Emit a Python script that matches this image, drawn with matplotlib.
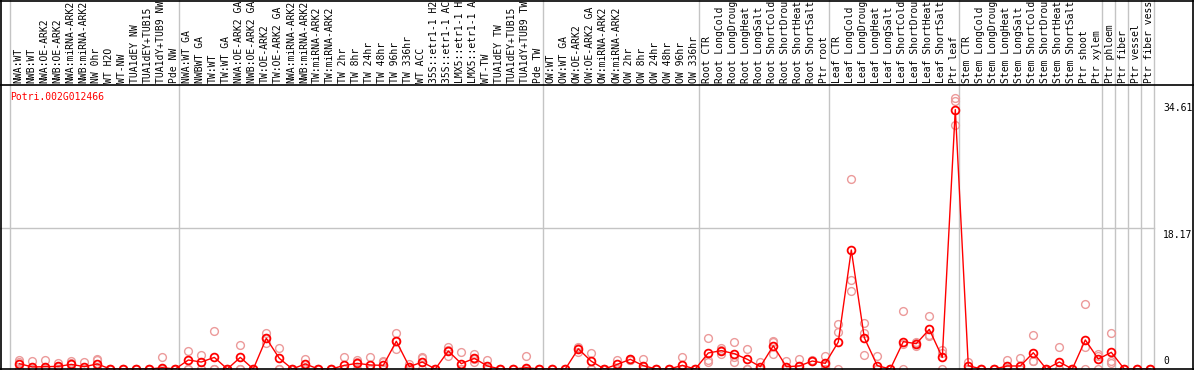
import numpy as np
import matplotlib
matplotlib.use("Agg")
import matplotlib.pyplot as plt
from matplotlib.lines import Line2D
import matplotlib.transforms as mtransforms

gene = "Potri.002G012466"

# category labels as they are visible in the chart (cut to 14 characters)
labels = [
    "NWA:WT", "NWB:WT", "NWA:OE-ARK2", "NWB:OE-ARK2", "NWA:miRNA-ARK2", "NWB:miRNA-ARK2",
    "NW 0hr", "WT H2O", "WT-NW", "TUA1dEY NW", "TUA1dEY+TUB15", "TUA1dY+TUB9 NW", "Pde NW",
    "NWA:WT GA", "NWBWT GA", "TW:WT", "TW:WT GA", "NWA:OE-ARK2 GA", "NWB:OE-ARK2 GA",
    "TW:OE-ARK2", "TW:OE-ARK2 GA", "NWA:miRNA-ARK2", "NWB:miRNA-ARK2", "TW:miRNA-ARK2",
    "TW:miRNA-ARK2", "TW 2hr", "TW 8hr", "TW 24hr", "TW 48hr", "TW 96hr", "TW 336hr",
    "WT ACC", "35S::etr1-1 H2", "35S::etr1-1 AC", "LMX5::etr1-1 H", "LMX5::etr1-1 A",
    "WT-TW", "TUA1dEY TW", "TUA1dEY+TUB15", "TUA1dY+TUB9 TW", "Pde TW",
    "OW:WT", "OW:WT GA", "OW:OE-ARK2", "OW:OE-ARK2 GA", "OW:miRNA-ARK2", "OW:miRNA-ARK2",
    "OW 2hr", "OW 8hr", "OW 24hr", "OW 48hr", "OW 96hr", "OW 336hr",
    "Root CTR", "Root LongCold", "Root LongDroug", "Root LongHeat", "Root LongSalt",
    "Root ShortCold", "Root ShortDrou", "Root ShortHeat", "Root ShortSalt", "Ptr root",
    "Leaf CTR", "Leaf LongCold", "Leaf LongDroug", "Leaf LongHeat", "Leaf LongSalt",
    "Leaf ShortCold", "Leaf ShortDrou", "Leaf ShortHeat", "Leaf ShortSalt", "Ptr leaf",
    "Stem CTR", "Stem LongCold", "Stem LongDroug", "Stem LongHeat", "Stem LongSalt",
    "Stem ShortCold", "Stem ShortDrou", "Stem ShortHeat", "Stem ShortSalt", "Ptr shoot",
    "Ptr xylem", "Ptr phloem", "Ptr fiber", "Ptr vessel", "Ptr fiber vess",
]

# group start indices (separators)
group_starts = [0, 13, 41, 53, 63, 73, 84, 85, 86, 87, 88]

means = [
    0.69, 0.26, 0.30, 0.34, 0.60, 0.30, 0.65, 0, 0, 0, 0, 0.17, 0,
    1.16, 0.9, 1.5, 0, 1.5, 0, 3.96, 1.38, 0, 0.65, 0, 0, 0.47, 0.73, 0.52, 0.47, 3.58,
    0.30, 0.9, 0, 2.33, 0.69, 1.38, 0.39, 0, 0, 0.17, 0,
    0, 0, 2.6, 1.0, 0, 0.6, 1.25, 0.43, 0, 0, 0.47, 0,
    2.07, 2.37, 1.98, 1.25, 0.30, 3.0, 0.30, 0.39, 1.03, 0.73,
    3.49, 15.37, 4.04, 0.43, 0, 3.53, 3.27, 5.12, 1.5, 33.5,
    0.43, 0, 0, 0.39, 0.39, 2.1, 0, 0.9, 0, 3.75, 1.29,
    2.15, 0, 0, 0,
]
rep1 = [
    1.12, 0.99, 1.16, 0.82, 1.0, 0.9, 1.25, 0, 0, 0, 0, 1.55, 0,
    2.33, 1.8, 4.86, 0, 3.1, 0, 4.6, 2.76, 0, 1.25, 0, 0, 1.55, 1.12, 1.55, 1.0, 4.6,
    0.6, 1.6, 0, 2.9, 2.2, 2.0, 1.16, 0, 0, 1.7, 0,
    0, 0, 2.9, 2.1, 0, 1.12, 1.3, 1.25, 0, 0, 1.6, 0,
    4.0, 2.76, 3.5, 2.6, 0.95, 3.6, 1.03, 1.25, 1.12, 1.7,
    5.8, 24.6, 5.9, 1.7, 0, 7.45, 3.0, 6.8, 2.5, 35.0,
    0.95, 0, 0, 1.12, 1.46, 4.34, 0, 2.8, 0, 8.35, 2.0,
    4.6, 0, 0, 0,
]
rep2 = [
    0.9, 0, 0, 0.2, 0.8, 0, 1.12, 0, 0, 0, 0, 0, 0,
    0, 0, 0, 0, 0, 0, 3.3, 0, 0, 0, 0, 0, 0, 0.95, 0, 0.85, 2.6,
    0.3, 1.38, 0, 1.7, 0, 0.86, 0, 0, 0, 0, 0,
    0, 0, 2.75, 0, 0, 0, 1.2, 0, 0, 0, 0, 0,
    1.16, 2.0, 0.95, 0, 0, 1.9, 0, 0, 1.0, 0.5,
    4.73, 11.5, 4.6, 0, 0, 3.2, 3.3, 4.2, 2.1, 34.61,
    0, 0, 0, 0, 0, 1.0, 0, 0, 0, 2.9, 1.7,
    1.0, 0, 0, 0,
]
rep3 = [
    0.05, 0, 0, 0, 0, 0, 0, 0, 0, 0, 0, 0, 0,
    0, 0, 0, 0, 0, 0, 3.96, 0, 0, 0, 0, 0, 0, 0, 0, 0, 3.6,
    0, 0, 0, 2.4, 0, 1.3, 0, 0, 0, 0, 0,
    0, 0, 2.2, 0, 0, 0, 1.2, 0, 0, 0, 0, 0,
    0.9, 2.4, 1.5, 0, 0, 3.5, 0, 0, 1.0, 0,
    0, 10.07, 1.8, 0, 0, 0, 3.5, 4.4, 0, 31.5,
    0, 0, 0, 0, 0, 1.0, 0, 0, 0, 0, 0,
    0.8, 0, 0, 0,
]

yticks = [0, 18.17, 34.61]

# ---- geometry (pixels) ----
W, H = 1194, 370
DPI = 100
x0_px, dx_px = 19.3, 13.0       # first column position, column pitch
top_px, bot_px = 85, 369        # plot area top / bottom (from top)
px_per_unit = (bot_px - 228.3) / 18.17

fig = plt.figure(figsize=(W / DPI, H / DPI), dpi=DPI)
fig.patch.set_facecolor("white")
ax = fig.add_axes([0, (H - bot_px) / H, 1, (bot_px - top_px) / H])
ax.set_xlim(-x0_px / dx_px, (W - x0_px) / dx_px)
ax.set_ylim(0, (bot_px - top_px) / px_per_unit)
for s in ax.spines.values():
    s.set_visible(False)
ax.set_xticks([])
ax.set_yticks([])
ax.patch.set_alpha(0)

mono = "DejaVu Sans Mono"
fs = 7.0
grid_c = "#c4c4c4"

# vertical separators, running through the label area
ymax_fig = (H - (H - bot_px)) / (bot_px - top_px)
for g in group_starts:
    ax.axvline(g - 0.715, ymin=0, ymax=ymax_fig + 0.01, color=grid_c, lw=1.0,
               clip_on=False, zorder=0)

# horizontal grid at middle tick
ax.plot([ax.get_xlim()[0], group_starts[-1] - 0.715], [yticks[1], yticks[1]],
        color=grid_c, lw=1.0, zorder=0)

x = np.arange(len(labels))
reps = np.array([rep1, rep2, rep3])
for r in reps:
    ax.plot(x, r, linestyle="none", marker="o", markersize=5.6, markerfacecolor="none",
            markeredgecolor="#ec9a9a", markeredgewidth=1.0, zorder=2)
ax.plot(x, means, color="#ff0000", lw=1.0, zorder=3)
ax.plot(x, means, linestyle="none", marker="o", markersize=5.6, markerfacecolor="none",
        markeredgecolor="#ff0000", markeredgewidth=1.3, zorder=4)

# category labels (vertical, above the plot)
lab_y = (H - 83 - (H - bot_px)) / (bot_px - top_px)
trans = mtransforms.blended_transform_factory(ax.transData, ax.transAxes)
for i, lab in enumerate(labels):
    ax.text(i - 0.1, lab_y, lab, rotation=90, ha="center", va="bottom",
            fontsize=fs, family=mono, color="black", transform=trans, clip_on=False)

# y tick labels on the right
xlab = (1163 - x0_px) / dx_px
ax.annotate(f"{yticks[0]:g}", (xlab, yticks[0]), xytext=(0, 2.5), textcoords="offset points",
            ha="left", va="bottom", fontsize=fs, family=mono)
for v in yticks[1:]:
    ax.annotate(f"{v:.2f}", (xlab, v), xytext=(0, -1.5), textcoords="offset points",
                ha="left", va="top", fontsize=fs, family=mono)

# gene name
fig.text(10 / W, 1 - 97.5 / H, gene, color="#ff0000", ha="left", va="center",
         fontsize=fs, family=mono)

# borders
def hline(ypx, x0=0, x1=W):
    fig.add_artist(Line2D([x0 / W, x1 / W], [1 - ypx / H, 1 - ypx / H], color="black",
                          lw=1.2, transform=fig.transFigure))

def vline(xpx, y0=0, y1=H):
    fig.add_artist(Line2D([xpx / W, xpx / W], [1 - y0 / H, 1 - y1 / H], color="black",
                          lw=1.2, transform=fig.transFigure))

hline(0.5)
hline(top_px)
hline(bot_px)
vline(1)
vline(W - 1)

fig.savefig("out.png", dpi=DPI)
